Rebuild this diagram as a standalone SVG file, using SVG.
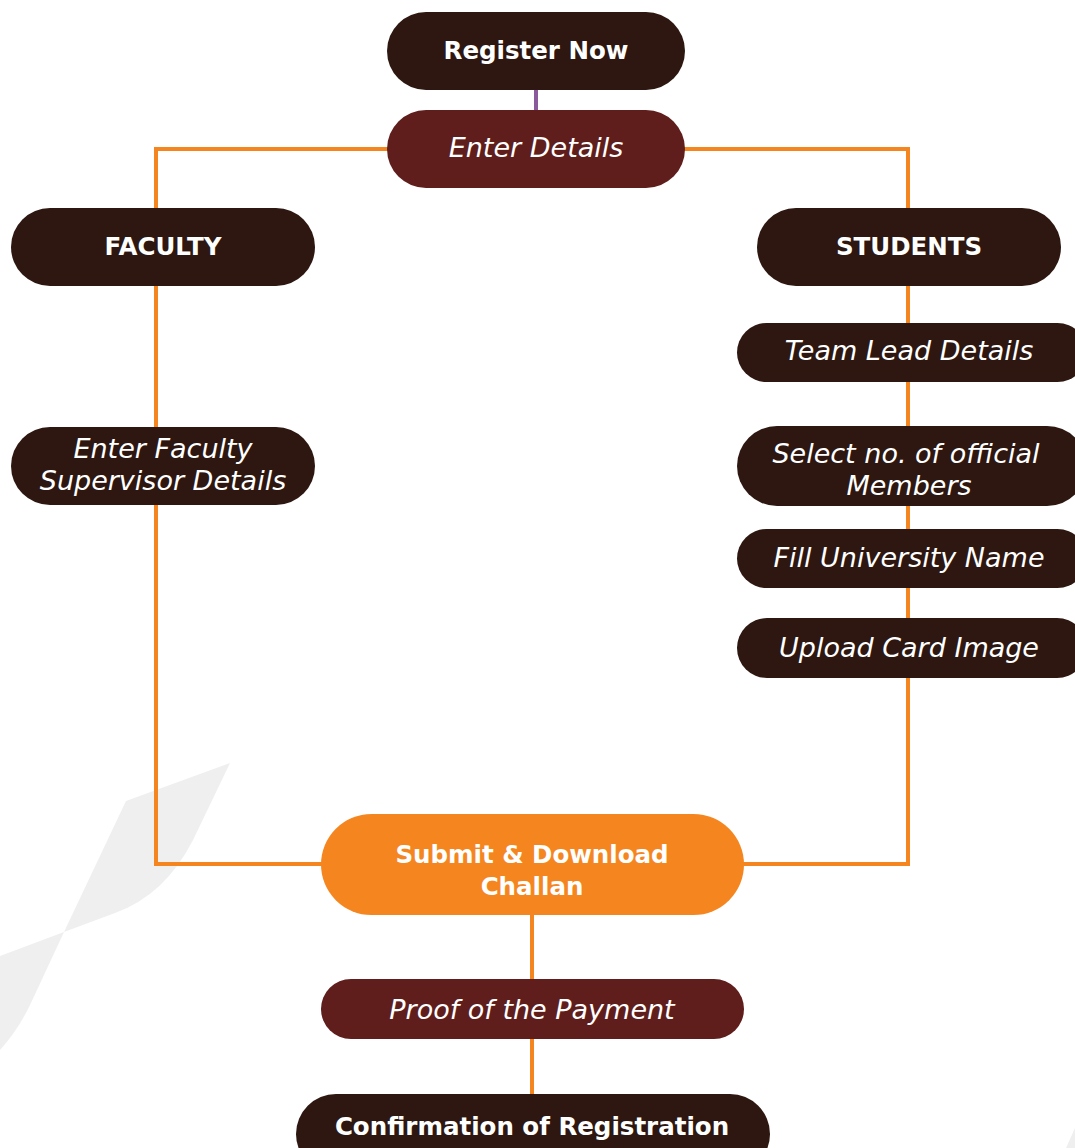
<svg xmlns="http://www.w3.org/2000/svg" width="1075" height="1148" viewBox="0 0 1075 1148">
<style>
.dark{fill:#2d1710}
.maroon{fill:#5f1e1b}
.orange{fill:#f5861f}
.b{font-family:"DejaVu Sans","Open Sans",sans-serif;font-weight:700;font-size:24.5px;fill:#fff;text-anchor:middle}
.i{font-family:"DejaVu Sans","Open Sans",sans-serif;font-style:italic;font-size:27px;fill:#fff;text-anchor:middle}
.ln{fill:none;stroke:#f5861f;stroke-width:4}
</style>
<rect width="1075" height="1148" fill="#fff"/>
<g id="bg" fill="#efefef">
<path d="M126,801 L230,763 L193,840 Q165,895 115,913 L64,932 L0,956 L0,1050 Q18,1030 30,1005 L64,932 Z"/>
<path d="M1075,1128 L1075,1148 L1066,1148 Z"/>
</g>
<g id="connectors">
<line x1="536" y1="88" x2="536" y2="112" stroke="#8a5a9c" stroke-width="4"/>
<polyline class="ln" points="390,149 156,149 156,210"/>
<polyline class="ln" points="682,149 908,149 908,210"/>
<line class="ln" x1="156" y1="284" x2="156" y2="429"/>
<polyline class="ln" points="156,503 156,864 324,864"/>
<polyline class="ln" points="908,284 908,864 741,864"/>
<line class="ln" x1="532" y1="913" x2="532" y2="981"/>
<line class="ln" x1="532" y1="1037" x2="532" y2="1096"/>
</g>
<g id="register-now"><rect class="dark" x="387" y="12" width="298" height="78" rx="39"/><text class="b" x="536" y="59">Register Now</text></g>
<g id="enter-details"><rect class="maroon" x="387" y="110" width="298" height="78" rx="39"/><text class="i" x="536" y="157">Enter Details</text></g>
<g id="faculty"><rect class="dark" x="11" y="208" width="304" height="78" rx="39"/><text class="b" x="163" y="255">FACULTY</text></g>
<g id="students"><rect class="dark" x="757" y="208" width="304" height="78" rx="39"/><text class="b" x="909" y="255">STUDENTS</text></g>
<g id="faculty-supervisor"><rect class="dark" x="11" y="427" width="304" height="78" rx="39"/><text class="i" x="163" y="458">Enter Faculty</text><text class="i" x="163" y="490">Supervisor Details</text></g>
<g id="team-lead"><rect class="dark" x="737" y="323" width="350" height="59" rx="29.5"/><text class="i" x="909" y="360">Team Lead Details</text></g>
<g id="members"><rect class="dark" x="737" y="426" width="350" height="80" rx="40"/><text class="i" x="906" y="463">Select no. of official</text><text class="i" x="909" y="495">Members</text></g>
<g id="university"><rect class="dark" x="737" y="529" width="350" height="59" rx="29.5"/><text class="i" x="909" y="567">Fill University Name</text></g>
<g id="upload-card"><rect class="dark" x="737" y="618" width="350" height="60" rx="30"/><text class="i" x="909" y="657">Upload Card Image</text></g>
<g id="submit"><rect class="orange" x="321" y="814" width="423" height="101" rx="50.5"/><text class="b" x="532" y="863">Submit &amp; Download</text><text class="b" x="532" y="895">Challan</text></g>
<g id="proof"><rect class="maroon" x="321" y="979" width="423" height="60" rx="30"/><text class="i" x="532" y="1019">Proof of the Payment</text></g>
<g id="confirmation"><rect class="dark" x="296" y="1094" width="474" height="80" rx="40"/><text class="b" x="532" y="1135">Confirmation of Registration</text></g>
</svg>
